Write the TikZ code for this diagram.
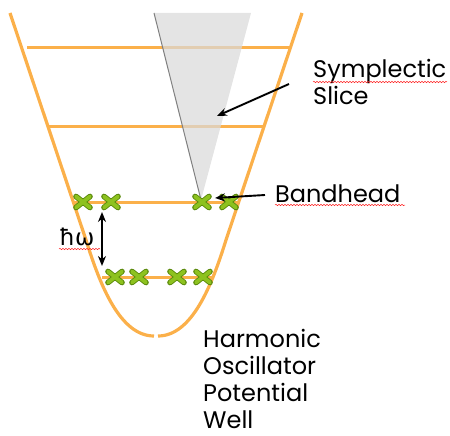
\documentclass[tikz,border=0pt]{standalone}
\usepackage{fontspec}
\setmainfont{Poppins}
\newfontfamily\hbarfont{DejaVu Sans}
\usetikzlibrary{positioning,arrows.meta,decorations.pathmorphing}
\definecolor{wellcol}{HTML}{FBB04A}
\definecolor{xcol}{HTML}{8DC21F}
\definecolor{xdark}{HTML}{5B8A0C}
\definecolor{slicecol}{HTML}{D9D9D9}
\newcommand{\stmark}[2]{% #1 x, #2 y of one state on a level
  \draw[xdark, line width=5.6pt, line cap=round] (#1-7,#2-5.5) -- (#1+7,#2+5.5) (#1-7,#2+5.5) -- (#1+7,#2-5.5);
  \draw[xcol, line width=3.8pt, line cap=round] (#1-7,#2-5.5) -- (#1+7,#2+5.5) (#1-7,#2+5.5) -- (#1+7,#2-5.5);
}

\begin{document}
\begin{tikzpicture}[x=1pt,y=-1pt,
    every node/.style={font=\fontsize{24}{27}\selectfont, inner sep=0pt},
    well/.style={wellcol, line width=3.2pt},
    level/.style={wellcol, line width=3pt},
    pointer/.style={-{Stealth[length=10pt,width=8pt]}, line width=1.9pt},
    squiggle/.style={red!85, line width=0.5pt, decorate,
      decoration={snake, amplitude=0.7pt, segment length=3pt}}]
  \useasboundingbox (0,0) rectangle (450,436);
  % potential well
  \draw[well] (10,13) -- (86,240) .. controls (100,285) and (120,336) .. (154,336);
  \draw[well] (302,13) -- (226,240) .. controls (212,285) and (192,336) .. (158,336);
  % oscillator levels
  \draw[level] (27,48) -- (289,48);
  \draw[level] (47,126) -- (265,126);
  \draw[level] (72,202) -- (240,202);
  \draw[level] (102,277) -- (213,277);
  % states
  \stmark{83}{202}
  \stmark{111}{202}
  \stmark{229}{202}
  \stmark{115}{277}
  \stmark{139}{277}
  \stmark{177}{277}
  \stmark{203}{277}
  % symplectic slice
  \fill[slicecol, opacity=0.72] (154,13) -- (201,200) -- (251,13) -- cycle;
  \draw[gray, line width=1pt] (154,13) -- (201,200);
  \stmark{202}{202}
  % labels (base = last line)
  \node[anchor=base west, align=left] (slicelbl) at (313,104) {Symplectic\\Slice};
  \node[anchor=base west] (bandlbl) at (275,202) {Bandhead};
  \node[anchor=base west, align=left] (welllbl) at (203,428) {Harmonic\\Oscillator\\Potential\\Well};
  \node[anchor=base west, font=\hbarfont\fontsize{23}{25}\selectfont] (hwlbl) at (59,245) {ħω};
  % spelling marks
  \draw[squiggle] (313,82) -- (447,82);
  \draw[squiggle] (275,205) -- (405,205);
  \draw[squiggle] (59,249) -- (100,249);
  % pointers
  \coordinate (slicetail) at (289,84);
  \coordinate (slicehead) at (217,116);
  \coordinate (bandtail) at (265,195);
  \coordinate (bandhead) at (215,198);
  \coordinate (gaptop) at (102,212);
  \coordinate (gapbot) at (102,266);
  \draw[pointer] (slicetail) -- (slicehead);
  \draw[pointer] (bandtail) -- (bandhead);
  \draw[pointer, {Stealth[length=10pt,width=8pt]}-{Stealth[length=10pt,width=8pt]}] (gaptop) -- (gapbot);
\end{tikzpicture}
\end{document}
